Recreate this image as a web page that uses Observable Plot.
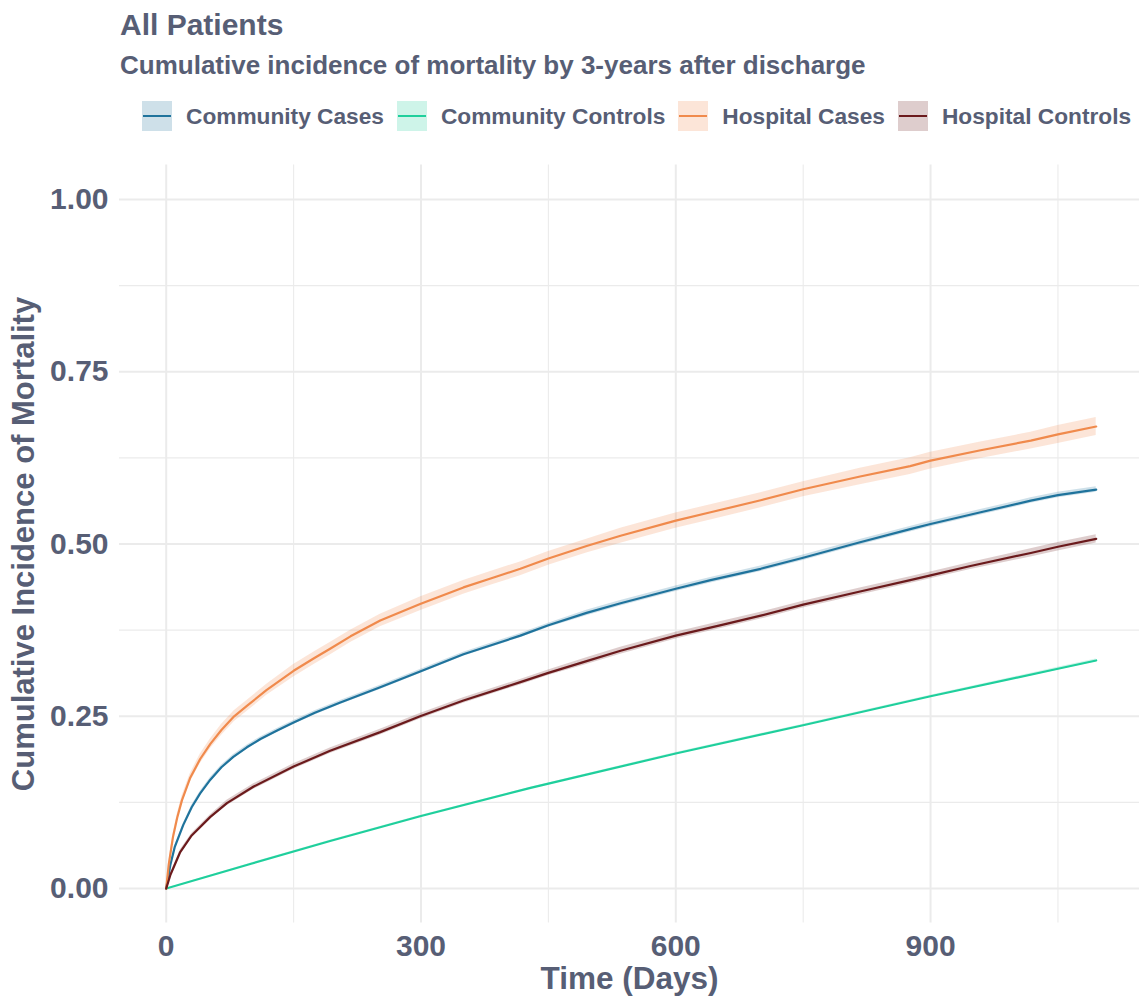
<!DOCTYPE html>
<html>
<head>
<meta charset="utf-8">
<script src="https://cdn.jsdelivr.net/npm/d3@7"></script>
<script src="https://cdn.jsdelivr.net/npm/@observablehq/plot@0.6"></script>
<style>
  body { margin: 0; background: #fff; font-family: "Liberation Sans", Arial, sans-serif; color: #575e75; }
  #header { position: relative; width: 1139px; height: 140px; }
  .title { position: absolute; left: 120px; top: 10px; font-size: 30px; font-weight: bold; line-height: 1; white-space: nowrap; }
  .subtitle { position: absolute; left: 120px; top: 52px; font-size: 26px; font-weight: bold; line-height: 1; white-space: nowrap; }
  .legend { position: absolute; left: 142px; top: 101px; display: flex; align-items: center; height: 30px; }
  .key { position: relative; width: 30px; height: 30px; margin-right: 14px; }
  .key .stroke { position: absolute; left: 1px; right: 1px; top: 14px; height: 2.2px; }
  .label { font-size: 22.7px; font-weight: bold; margin-right: 13px; white-space: nowrap; line-height: 1; }
</style>
</head>
<body>
<div id="header">
  <div class="title">All Patients</div>
  <div class="subtitle">Cumulative incidence of mortality by 3-years after discharge</div>
  <div class="legend" id="legend"></div>
</div>
<div id="chart"></div>
<script>
// Series names and colours
const seriesNames = ["Community Cases", "Community Controls", "Hospital Cases", "Hospital Controls"];
const seriesColors = ["#1f739c", "#1fcf9c", "#f08a4c", "#6b1a1c"];

// Community Cases: day, cumulative incidence, half-width of the confidence band
const ccDays = [0, 5, 10, 20, 30, 40, 52, 65, 79, 95, 111, 130, 150, 175, 205, 252, 299, 350, 417, 450, 495, 535, 600, 641, 700, 750, 817, 876, 900, 959, 1018, 1050, 1095];
const ccCum = [0, 0.035, 0.06, 0.092, 0.118, 0.138, 0.158, 0.176, 0.191, 0.205, 0.217, 0.229, 0.241, 0.255, 0.27, 0.292, 0.315, 0.34, 0.367, 0.382, 0.4, 0.414, 0.435, 0.4475, 0.464, 0.48, 0.5025, 0.5215, 0.529, 0.546, 0.563, 0.571, 0.579];
const ccHalf = [0, 0.002, 0.002, 0.002, 0.003, 0.003, 0.003, 0.003, 0.003, 0.003, 0.003, 0.003, 0.003, 0.003, 0.003, 0.003, 0.003, 0.003, 0.003, 0.003, 0.004, 0.004, 0.004, 0.004, 0.004, 0.004, 0.004, 0.004, 0.004, 0.004, 0.004, 0.004, 0.004];

// Community Controls
const ctDays = [0, 100, 193, 299, 429, 600, 750, 900, 1050, 1095];
const ctCum = [0, 0.036, 0.069, 0.105, 0.146, 0.196, 0.237, 0.279, 0.319, 0.331];
const ctHalf = [0, 0.001, 0.001, 0.001, 0.001, 0.0015, 0.0015, 0.0015, 0.002, 0.002];

// Hospital Cases
const hcDays = [0, 3, 8, 13, 18.5, 28, 40, 52, 65, 80, 95, 118, 150, 175, 193, 217, 252, 299, 350, 382, 417, 450, 495, 535, 600, 641, 700, 750, 817, 876, 900, 959, 1018, 1050, 1095];
const hcCum = [0, 0.035, 0.075, 0.103, 0.128, 0.16, 0.188, 0.21, 0.23, 0.25, 0.265, 0.288, 0.316, 0.335, 0.348, 0.366, 0.389, 0.413, 0.437, 0.45, 0.464, 0.479, 0.497, 0.512, 0.534, 0.546, 0.5635, 0.5795, 0.598, 0.613, 0.621, 0.636, 0.65, 0.659, 0.6705];
const hcHalf = [0, 0.003, 0.004, 0.005, 0.006, 0.006, 0.007, 0.007, 0.008, 0.008, 0.008, 0.008, 0.009, 0.009, 0.009, 0.009, 0.009, 0.01, 0.01, 0.01, 0.01, 0.01, 0.01, 0.011, 0.011, 0.011, 0.011, 0.011, 0.012, 0.012, 0.012, 0.012, 0.012, 0.013, 0.013];

// Hospital Controls
const hkDays = [0, 5, 16.5, 30, 52, 71.5, 103, 150, 193, 252, 299, 350, 417, 450, 495, 535, 600, 652, 700, 750, 817, 876, 900, 947, 1018, 1050, 1095];
const hkCum = [0, 0.02, 0.053, 0.077, 0.104, 0.124, 0.148, 0.177, 0.2, 0.227, 0.25, 0.273, 0.2995, 0.313, 0.33, 0.345, 0.367, 0.382, 0.396, 0.412, 0.431, 0.4475, 0.4545, 0.468, 0.487, 0.496, 0.5075];
const hkHalf = [0, 0.002, 0.003, 0.003, 0.003, 0.004, 0.004, 0.004, 0.004, 0.004, 0.004, 0.004, 0.004, 0.004, 0.005, 0.005, 0.005, 0.005, 0.005, 0.005, 0.005, 0.005, 0.005, 0.005, 0.006, 0.006, 0.006];

// Axis ticks
const xTicks = [0, 300, 600, 900];
const xMinorTicks = [150, 450, 750, 1050];
const yTicks = [0, 0.25, 0.5, 0.75, 1];
const yMinorTicks = [0.125, 0.375, 0.625, 0.875];

const textColor = "#575e75";
const gridColor = "#ebebeb";
const fontFamily = "'Liberation Sans', Arial, sans-serif";

function toRows(name, days, cum, half) {
  return days.map((d, i) => ({group: name, day: d, cum: cum[i], lo: cum[i] - half[i], hi: cum[i] + half[i]}));
}
const rows = [
  ...toRows(seriesNames[0], ccDays, ccCum, ccHalf),
  ...toRows(seriesNames[1], ctDays, ctCum, ctHalf),
  ...toRows(seriesNames[2], hcDays, hcCum, hcHalf),
  ...toRows(seriesNames[3], hkDays, hkCum, hkHalf)
];

// Legend: tinted key with a line through it, then the series name
const legend = document.getElementById("legend");
seriesNames.forEach((name, i) => {
  const key = document.createElement("div");
  key.className = "key";
  const c = d3.color(seriesColors[i]); c.opacity = 0.22;
  key.style.background = c.formatRgb();
  const stroke = document.createElement("div");
  stroke.className = "stroke";
  stroke.style.background = seriesColors[i];
  key.appendChild(stroke);
  const label = document.createElement("div");
  label.className = "label";
  label.textContent = name;
  legend.appendChild(key);
  legend.appendChild(label);
});

const chart = Plot.plot({
  width: 1139,
  height: 859,
  marginLeft: 119,
  marginRight: 0,
  marginTop: 24.5,
  marginBottom: 76.5,
  style: {fontFamily, color: textColor, background: "white", overflow: "visible"},
  x: {domain: [-55, 1146]},
  y: {domain: [-0.05, 1.05]},
  color: {domain: seriesNames, range: seriesColors},
  marks: [
    Plot.gridX(xMinorTicks, {stroke: gridColor, strokeOpacity: 1, strokeWidth: 1.1}),
    Plot.gridY(yMinorTicks, {stroke: gridColor, strokeOpacity: 1, strokeWidth: 1.1}),
    Plot.gridX(xTicks, {stroke: gridColor, strokeOpacity: 1, strokeWidth: 2}),
    Plot.gridY(yTicks, {stroke: gridColor, strokeOpacity: 1, strokeWidth: 2}),
    Plot.areaY(rows, {x: "day", y1: "lo", y2: "hi", fill: "group", z: "group", fillOpacity: 0.22}),
    Plot.line(rows, {x: "day", y: "cum", stroke: "group", z: "group", strokeWidth: 2.2}),
    Plot.axisX(xTicks, {tickSize: 0, tickPadding: 12, fontSize: 30, fontWeight: "bold", fill: textColor, label: null}),
    Plot.axisY(yTicks, {tickSize: 0, tickPadding: 11, fontSize: 30, fontWeight: "bold", fill: textColor, tickFormat: d3.format(".2f"), label: null}),
    Plot.text(["Time (Days)"], {text: d => d, frameAnchor: "bottom", lineAnchor: "bottom", dy: 65.5, fontSize: 31.5, fontWeight: "bold", fill: textColor}),
    Plot.text(["Cumulative Incidence of Mortality"], {text: d => d, frameAnchor: "left", textAnchor: "middle", lineAnchor: "bottom", rotate: -90, dx: -86, fontSize: 31, fontWeight: "bold", fill: textColor})
  ]
});
document.getElementById("chart").appendChild(chart);
</script>
</body>
</html>
